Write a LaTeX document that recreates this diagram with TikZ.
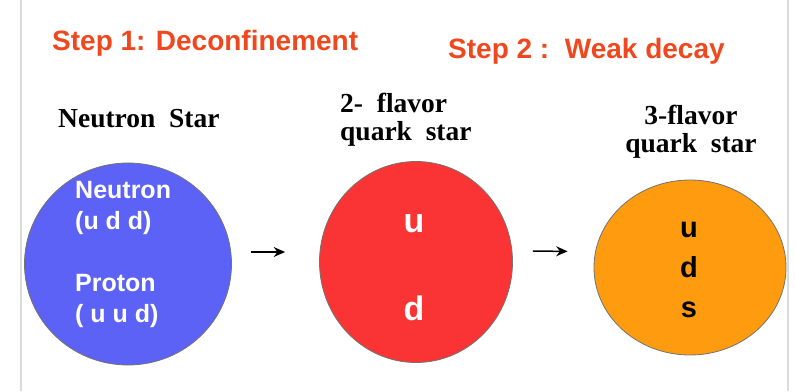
\documentclass[tikz,border=0pt]{standalone}
\usepackage{fontspec}
\setmainfont{Liberation Serif}
\setsansfont{Liberation Sans}
\usepackage{tikz}
\usetikzlibrary{arrows.meta, positioning, shapes.geometric}
\definecolor{stepred}{RGB}{240,72,30}
\definecolor{nsblue}{RGB}{92,98,245}
\definecolor{qsred}{RGB}{250,52,52}
\definecolor{qsorange}{RGB}{255,155,15}
\definecolor{framegray}{RGB}{218,218,218}

\begin{document}
\begin{tikzpicture}[x=1pt, y=-1pt,
    star/.style={ellipse, draw=black!55, line width=0.8pt, inner sep=0pt},
    steptext/.style={font=\sffamily\bfseries\fontsize{28}{32}\selectfont, text=stepred, anchor=base west, inner sep=0pt},
    title/.style={font=\bfseries\fontsize{27.5}{28}\selectfont, inner sep=0pt},
    quark/.style={font=\sffamily\bfseries\fontsize{25}{31}\selectfont, text=white, inner sep=0pt},
    bigquark/.style={font=\sffamily\bfseries\fontsize{34}{36}\selectfont, text=white, inner sep=0pt, anchor=base},
    arrow/.style={-{Stealth[length=4mm, width=3.5mm]}, line width=1.5pt},
]
\useasboundingbox (0,0) rectangle (795,391);
\draw[framegray, line width=1.5pt] (21,0) -- (21,391) (788,0) -- (788,391);

% steps
\node[steptext] (step1) at (52,50) {Step 1: Deconfinement};
\node[steptext] (step2) at (448,58) {Step 2 :\ \ Weak decay};

% stars
\node[star, fill=nsblue, minimum width=207pt, minimum height=202pt] (ns) at (128,264) {};
\node[star, fill=qsred, minimum width=193pt, minimum height=201pt] (tq) at (416,262) {};
\node[star, fill=qsorange, minimum width=192pt, minimum height=175pt] (thq) at (690,267.5) {};

% titles
\node[title, anchor=base west] (nstitle) at (58,127) {Neutron\ \ Star};
\node[title, align=left, anchor=west] (tqtitle) at (340,119.6) {2-\ \ flavor\\quark\ \ star};
\node[title, align=center] (thqtitle) at (691,132) {3-flavor\\quark\ \ star};

% contents
\node[quark, align=left, anchor=west] (neutron) at (75,207.5) {Neutron\\(u d d)};
\node[quark, align=left, anchor=west] (proton) at (75,300.5) {Proton\\( u u d)};
\node[bigquark] (tqu) at (414,232) {u};
\node[bigquark] (tqd) at (414,320) {d};
\node[font=\sffamily\bfseries\fontsize{29}{40}\selectfont, align=center, inner sep=0pt] (uds) at (689,269.5) {u\\d\\s};

% arrows
\draw[arrow, shorten <=19pt, shorten >=34pt] ([yshift=12pt]ns.east) -- ([yshift=10pt]tq.west);
\draw[arrow, shorten <=20pt, shorten >=26pt] ([yshift=11pt]tq.east) -- ([yshift=16pt]thq.west);
\end{tikzpicture}
\end{document}
